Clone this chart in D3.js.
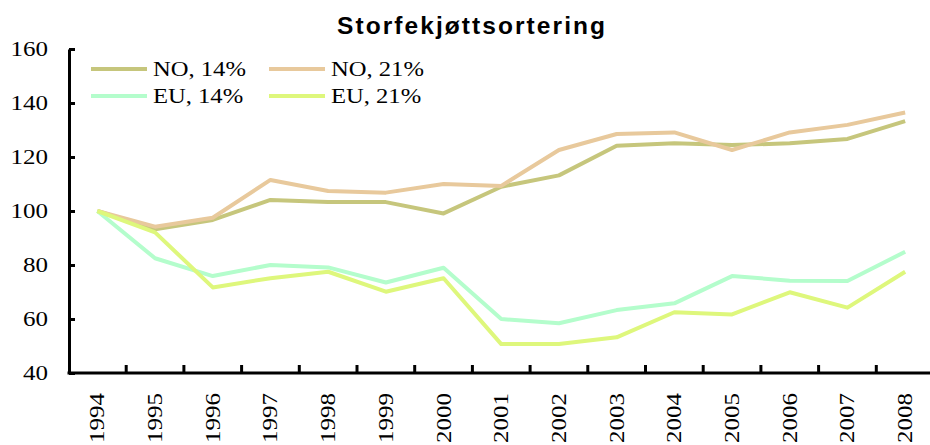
<!DOCTYPE html>
<html><head><meta charset="utf-8">
<script src="https://cdn.jsdelivr.net/npm/d3@7"></script>
<style>body{margin:0;background:#fff}svg{display:block}</style>
</head><body>
<script>
const years = ["1994","1995","1996","1997","1998","1999","2000","2001","2002","2003","2004","2005","2006","2007","2008"];
const no14 = [100,93.2,96.7,104.1,103.3,103.3,99.1,109.0,113.2,124.2,125.1,124.4,125.1,126.7,133.3];
const no21 = [100,94.2,97.5,111.5,107.4,106.8,110.0,109.3,122.6,128.5,129.1,122.6,129.1,131.9,136.5];
const eu14 = [100,82.5,75.9,80.0,79.1,73.5,79.0,60.0,58.4,63.3,65.8,75.9,74.2,74.1,84.9];
const eu21 = [100,92.1,71.7,75.1,77.5,70.1,75.1,50.7,50.7,53.2,62.5,61.7,69.9,64.2,77.5];
const seriesNames = ["NO, 14%","NO, 21%","EU, 14%","EU, 21%"];
const seriesColors = ["#c6c67c","#e8c99c","#b4fdcc","#def77c"];
const yTicks = [40,60,80,100,120,140,160];
const title = "Storfekjøttsortering";

const W = 930, H = 445;
const svg = d3.select("body").append("svg").attr("width", W).attr("height", H);
const x = d3.scaleBand().domain(years).range([68.5, 934]).padding(0);
const y = d3.scaleLinear().domain([40,160]).range([373, 49]);
const cx = d => x(d) + x.bandwidth()/2;
const serif = "'Liberation Serif','Times New Roman',serif";

svg.append("text").attr("x", 471).attr("y", 34).attr("text-anchor","middle")
  .attr("font-family","'Liberation Sans',Arial,sans-serif").attr("font-weight","bold")
  .attr("font-size", 24.5).attr("textLength", 268).attr("lengthAdjust","spacing").text(title);

// y axis
const yAxis = svg.append("g").attr("transform","translate(69,0)")
  .call(d3.axisLeft(y).tickValues(yTicks).tickSizeInner(-6).tickSizeOuter(0).tickPadding(0).tickFormat(d3.format("d")));
yAxis.select(".domain").attr("stroke","#000").attr("stroke-width",3);
yAxis.selectAll(".tick line").attr("stroke","#000").attr("stroke-width",3);
yAxis.selectAll(".tick text").attr("x",0).attr("dy",null).attr("dominant-baseline","central")
  .attr("font-family",serif).attr("font-size",20).attr("fill","#000").attr("text-anchor","end")
  .attr("transform","translate(-21,0) scale(1.25,1)");

// x axis line + boundary ticks
const xg = svg.append("g");
xg.append("line").attr("x1",67.5).attr("x2",934).attr("y1",y(40)).attr("y2",y(40)).attr("stroke","#000").attr("stroke-width",3);
xg.selectAll(".xt").data(years.slice(1)).join("line")
  .attr("x1",d=>x(d)).attr("x2",d=>x(d)).attr("y1",y(40)).attr("y2",y(40)-8)
  .attr("stroke","#000").attr("stroke-width",3);
xg.selectAll(".xl").data(years).join("text")
  .attr("transform", d=>`translate(${cx(d)+7},393) rotate(-90) scale(1.25,1)`)
  .attr("text-anchor","end").attr("font-family",serif).attr("font-size",20).attr("fill","#000")
  .text(d=>d);

// lines
const allSeries = [no14,no21,eu14,eu21];
const line = d3.line().x((d,i)=>cx(years[i])).y(d=>y(d));
svg.selectAll(".ser").data(allSeries).join("path")
  .attr("d", d=>line(d)).attr("fill","none")
  .attr("stroke",(d,i)=>seriesColors[i]).attr("stroke-width",4).attr("stroke-linejoin","round");

// legend
const legPos = [[91,69],[269,69],[91,96],[269,96]];
const lg = svg.append("g");
seriesNames.forEach((n,i)=>{
  const [lx,ly] = legPos[i];
  lg.append("line").attr("x1",lx).attr("x2",lx+56).attr("y1",ly).attr("y2",ly)
    .attr("stroke",seriesColors[i]).attr("stroke-width",4);
  lg.append("text").attr("transform",`translate(${lx+62},${ly+7}) scale(1.23,1)`)
    .attr("font-family",serif).attr("font-size",20).attr("fill","#000").text(n);
});
</script>
</body></html>
